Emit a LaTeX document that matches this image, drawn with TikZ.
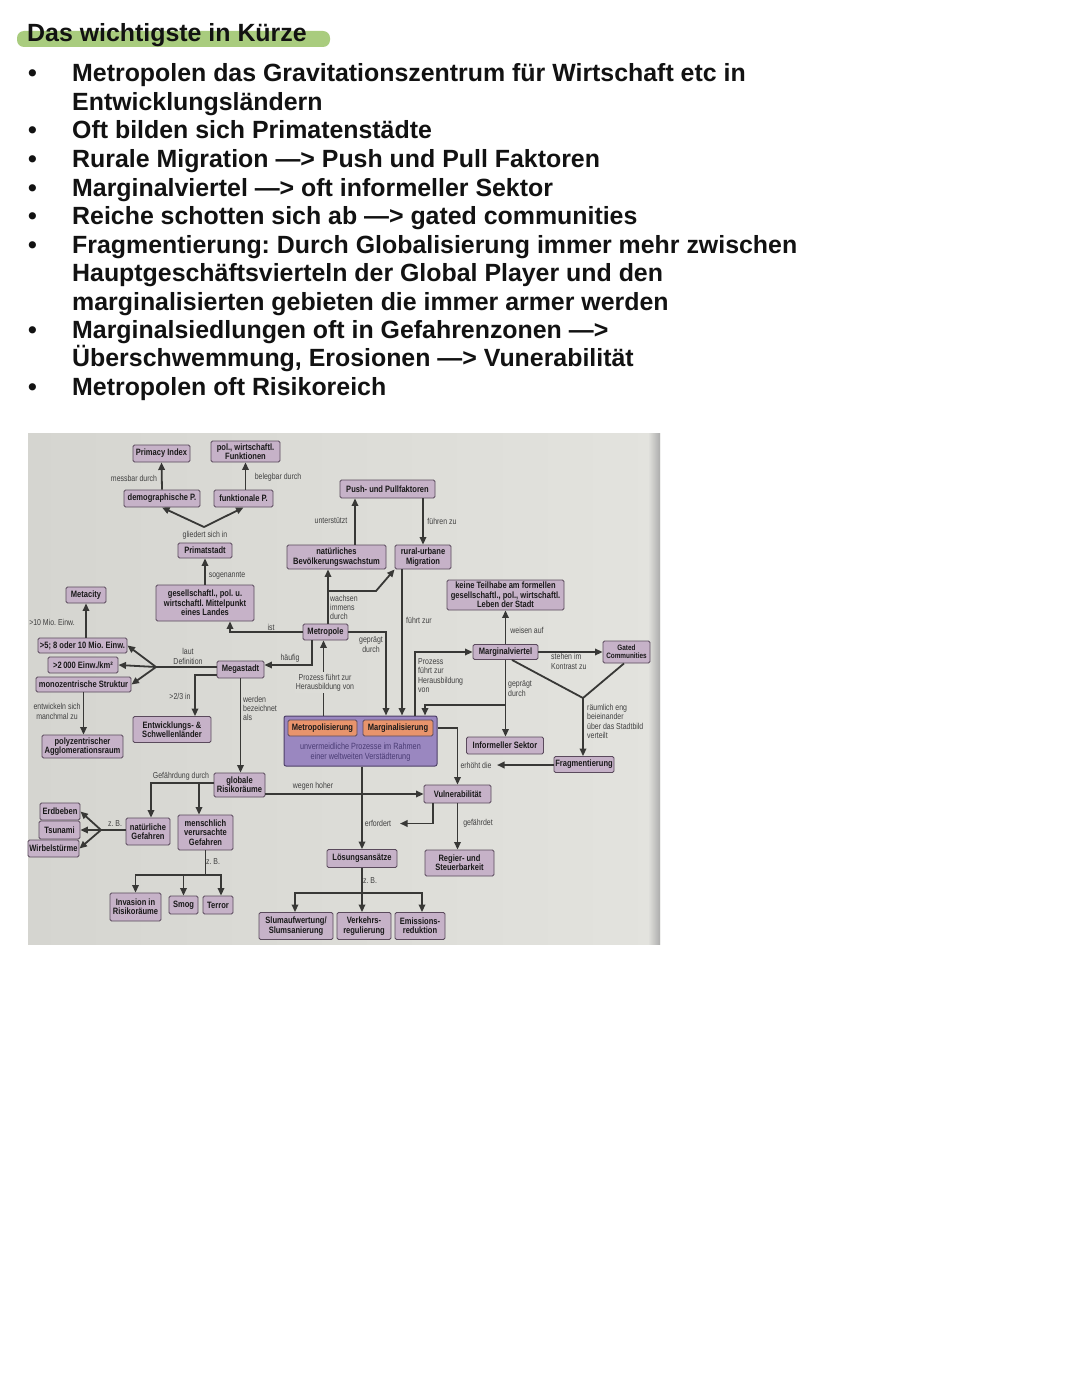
\documentclass[tikz,border=0pt]{standalone}
\usepackage{fontspec}
\setmainfont{Liberation Sans}
\newfontfamily\nodefont[FakeStretch=0.82]{Liberation Sans}
\newfontfamily\lblfont[FakeStretch=0.81]{Liberation Sans}
\usetikzlibrary{arrows.meta,calc}
\definecolor{boxfill}{HTML}{C6B2C8}
\definecolor{boxline}{HTML}{5A4A5C}
\definecolor{orangefill}{HTML}{E8946C}
\definecolor{bigfill}{HTML}{9A87C0}
\definecolor{bigline}{HTML}{4E4068}
\definecolor{arrowcol}{HTML}{383836}
\definecolor{lblcol}{HTML}{404040}
\definecolor{photoA}{HTML}{D5D5D0}
\definecolor{photoB}{HTML}{E3E3DE}
\definecolor{photoM}{HTML}{DCDCD7}
\definecolor{hlgreen}{HTML}{A9CC7E}
\definecolor{bigtext}{HTML}{4A3C74}
\tikzset{
 box/.style={draw=boxline, fill=boxfill, line width=0.9pt, rounded corners=1.5pt, align=center, inner sep=1pt, font=\nodefont\bfseries\fontsize{9.2}{9.3}\selectfont, text=black!90},
 obox/.style={box, fill=orangefill},
 lbl/.style={font=\lblfont\fontsize{8.6}{9.4}\selectfont, text=lblcol, inner sep=0pt, align=center},
 arr/.style={draw=arrowcol, line width=1.8pt, -{Triangle[length=7.5pt,width=6.5pt]}},
 ln/.style={draw=arrowcol, line width=1.8pt},
 bul/.style={anchor=base west, inner sep=0pt, font=\bfseries\fontsize{24.9}{28}\selectfont, text=black!93},
}
\frenchspacing
\begin{document}
\begin{tikzpicture}[x=1pt,y=-1pt]
\useasboundingbox (0,0) rectangle (1080,1394);
\fill[white] (0,0) rectangle (1080,1394);
% ---------- text part ----------
\fill[hlgreen, rounded corners=7pt] (17,31) rectangle (330,47);
\node[bul] (t0) at (27,42) {Das wichtigste in Kürze};
\foreach \k/\yy in {b1/82, b3/139, b4/167.5, b5/196, b6/224.5, b7/253, b10/338, b12/395}
  \node[bul] (\k) at (28,\yy) {•};
\node[bul] (t1) at (72,82) {Metropolen das Gravitationszentrum für Wirtschaft etc in};
\node[bul] (t2) at (72,110.5) {Entwicklungsländern};
\node[bul] (t3) at (72,139) {Oft bilden sich Primatenstädte};
\node[bul] (t4) at (72,167.5) {Rurale Migration —> Push und Pull Faktoren};
\node[bul] (t5) at (72,196) {Marginalviertel —> oft informeller Sektor};
\node[bul] (t6) at (72,224.5) {Reiche schotten sich ab —> gated communities};
\node[bul] (t7) at (72,253) {Fragmentierung: Durch Globalisierung immer mehr zwischen};
\node[bul] (t8) at (72,281.5) {Hauptgeschäftsvierteln der Global Player und den};
\node[bul] (t9) at (72,310) {marginalisierten gebieten die immer armer werden};
\node[bul] (t10) at (72,338) {Marginalsiedlungen oft in Gefahrenzonen —>};
\node[bul] (t11) at (72,366.5) {Überschwemmung, Erosionen —> Vunerabilität};
\node[bul] (t12) at (72,395) {Metropolen oft Risikoreich};
% ---------- photo background ----------
\fill[left color=photoA, right color=photoB] (28,433) rectangle (660,944);
\fill[right color=gray!65, left color=photoB] (648,433) rectangle (660,944);
% ---------- nodes ----------
\node[draw=bigline, fill=bigfill, line width=1pt, rounded corners=2pt, minimum width=153pt, minimum height=50pt] (bb) at (360.5,741) {};
\node[lbl, text=bigtext, font=\lblfont\fontsize{9}{9.6}\selectfont] (bbt) at (360.5,752) {unvermeidliche Prozesse im Rahmen\\einer weltweiten Verstädterung};
\node[obox, minimum width=69pt, minimum height=16pt] (mt) at (322.5,728) {Metropolisierung};
\node[obox, minimum width=70pt, minimum height=16pt] (mr) at (398,728) {Marginalisierung};

\node[box, minimum width=57pt, minimum height=17pt] (pi) at (161.5,453.5) {Primacy Index};
\node[box, minimum width=69pt, minimum height=21pt] (pw) at (245.5,451.5) {pol., wirtschaftl.\\Funktionen};
\node[box, minimum width=76pt, minimum height=17pt] (dp) at (162,498.5) {demographische P.};
\node[box, minimum width=59pt, minimum height=17pt] (fp) at (243.5,498.5) {funktionale P.};
\node[box, minimum width=54pt, minimum height=15pt] (ps) at (205,550.5) {Primatstadt};
\node[box, minimum width=98pt, minimum height=36pt] (gm) at (205,603) {gesellschaftl., pol. u.\\wirtschaftl. Mittelpunkt\\eines Landes};
\node[box, minimum width=40pt, minimum height=16pt] (mc) at (86,595) {Metacity};
\node[box, minimum width=89pt, minimum height=15pt] (m5) at (82.5,645.5) {>5; 8 oder 10 Mio. Einw.};
\node[box, minimum width=70pt, minimum height=16pt] (m2) at (83,665) {>2\,000 Einw./km²};
\node[box, minimum width=95pt, minimum height=15pt] (mz) at (83.5,684.5) {monozentrische Struktur};
\node[box, minimum width=81pt, minimum height=23pt] (pa) at (82.5,746.5) {polyzentrischer\\Agglomerationsraum};
\node[box, minimum width=47pt, minimum height=17pt] (ms) at (240.5,669.5) {Megastadt};
\node[box, minimum width=78pt, minimum height=26pt] (es) at (172,729.5) {Entwicklungs- \&\\Schwellenländer};
\node[box, minimum width=51pt, minimum height=24pt] (gr) at (239.5,785) {globale\\Risikoräume};
\node[box, minimum width=44pt, minimum height=27pt] (ng) at (148,831.5) {natürliche\\Gefahren};
\node[box, minimum width=55pt, minimum height=35pt] (mg) at (205.5,832.5) {menschlich\\verursachte\\Gefahren};
\node[box, minimum width=40pt, minimum height=17pt] (eb) at (60,811.5) {Erdbeben};
\node[box, minimum width=41pt, minimum height=18pt] (ts) at (59.5,830) {Tsunami};
\node[box, minimum width=51pt, minimum height=17pt] (ws) at (53.5,848.5) {Wirbelstürme};
\node[box, minimum width=51pt, minimum height=28pt] (ir) at (135.5,907) {Invasion in\\Risikoräume};
\node[box, minimum width=29pt, minimum height=18pt] (sm) at (183.5,905) {Smog};
\node[box, minimum width=30pt, minimum height=18pt] (te) at (218,905) {Terror};

\node[box, minimum width=95pt, minimum height=18pt] (pp) at (387.5,489) {Push- und Pullfaktoren};
\node[box, minimum width=99pt, minimum height=24pt] (nb) at (336.5,557) {natürliches\\Bevölkerungswachstum};
\node[box, minimum width=56pt, minimum height=24pt] (ru) at (423,557) {rural-urbane\\Migration};
\node[box, minimum width=45pt, minimum height=16pt] (mp) at (325.5,632) {Metropole};
\node[box, minimum width=117pt, minimum height=30pt] (kt) at (505.5,595) {keine Teilhabe am formellen\\gesellschaftl., pol., wirtschaftl.\\Leben der Stadt};
\node[box, minimum width=65pt, minimum height=15pt] (mv) at (505.5,652) {Marginalviertel};
\node[box, minimum width=47pt, minimum height=22pt, font=\nodefont\bfseries\fontsize{7.8}{8.2}\selectfont] (gc) at (626.5,652) {Gated\\Communities};
\node[box, minimum width=77pt, minimum height=17pt] (is) at (505,745.5) {Informeller Sektor};
\node[box, minimum width=60pt, minimum height=16pt] (fr) at (584,764.5) {Fragmentierung};
\node[box, minimum width=67pt, minimum height=18pt] (vu) at (457.5,794) {Vulnerabilität};
\node[box, minimum width=70pt, minimum height=18pt] (la) at (362,858.5) {Lösungsansätze};
\node[box, minimum width=69pt, minimum height=26pt] (rs) at (459.5,863) {Regier- und\\Steuerbarkeit};
\node[box, minimum width=74pt, minimum height=27pt] (sa) at (296,926) {Slumaufwertung/\\Slumsanierung};
\node[box, minimum width=54pt, minimum height=27pt] (vr) at (364,926) {Verkehrs-\\regulierung};
\node[box, minimum width=50pt, minimum height=27pt] (er) at (420,926) {Emissions-\\reduktion};

% ---------- labels ----------
\node[lbl] (l1) at (134,478) {messbar durch};
\node[lbl] (l2) at (278,477) {belegbar durch};
\node[lbl] (l3) at (205,535) {gliedert sich in};
\node[lbl] (l4) at (227,576) {sogenannte};
\node[lbl] (l5) at (52,622) {>10 Mio. Einw.};
\node[lbl] (l6) at (188,656.5) {laut\\Definition};
\node[lbl] (l7) at (57,711.5) {entwickeln sich\\manchmal zu};
\node[lbl] (l8) at (180,696) {>2/3 in};
\node[lbl, anchor=west, align=left] (l9) at (243,708.5) {werden\\bezeichnet\\als};
\node[lbl] (l10) at (271,627) {ist};
\node[lbl] (l11) at (290,658.5) {häufig};
\node[lbl, anchor=west, align=left] (l13) at (330,607.5) {wachsen\\immens\\durch};
\node[lbl] (l14) at (371,644.5) {geprägt\\durch};
\node[lbl] (l15) at (419,620.5) {führt zur};
\node[lbl, anchor=west, align=left] (l16) at (418,675.5) {Prozess\\führt zur\\Herausbildung\\von};
\node[lbl] (l17) at (527,630.5) {weisen auf};
\node[lbl, anchor=west, align=left] (l18) at (551,661.5) {stehen im\\Kontrast zu};
\node[lbl, anchor=west, align=left] (l19) at (508,688.5) {geprägt\\durch};
\node[lbl, anchor=west, align=left] (l20) at (587,721.5) {räumlich eng\\beieinander\\über das Stadtbild\\verteilt};
\node[lbl] (l21) at (476,765) {erhöht die};
\node[lbl] (l22) at (181,776) {Gefährdung durch};
\node[lbl] (l23) at (115,824) {z. B.};
\node[lbl] (l24) at (213,862) {z. B.};
\node[lbl] (l25) at (313,786.5) {wegen hoher};
\node[lbl] (l26) at (378,823) {erfordert};
\node[lbl] (l27) at (478,823) {gefährdet};
\node[lbl] (l28) at (370,880.5) {z. B.};
\node[lbl] (l29) at (331,521) {unterstützt};
\node[lbl] (l30) at (442,521) {führen zu};

% ---------- connectors ----------
\draw[arr] (dp.north) -- (pi.south);
\draw[arr] (pw.south |- fp.north) -- (pw.south);
\coordinate (v1) at (204,527);
\draw[arr] (v1) -- (dp.south);
\draw[arr] (v1) -- (fp.south);
\draw[arr] (gm.north) -- (ps.south);
\draw[arr] (mc.south |- m5.north) -- (mc.south);
\coordinate (v2) at (156,667);
\draw[ln] (v2 -| ms.west) -- (v2);
\draw[arr] (v2) -- (m5.east);
\draw[arr] (v2) -- (m2.east);
\draw[arr] (v2) -- (mz.east);
\draw[arr] (mz.south) -- (mz.south |- pa.north);
\draw[arr] ([yshift=-5.5pt]ms.west) -| ([xshift=23pt]es.north);
\draw[arr] (ms.south) -- (ms.south |- gr.north);
\coordinate (j1) at (199,783);
\draw[arr] ([yshift=2pt]gr.west) -| ([xshift=3pt]ng.north);
\draw[arr] (j1) -- (j1 |- mg.north);
\coordinate (v3) at (101,830);
\draw[ln] (v3 -| ng.west) -- (v3);
\draw[arr] (v3) -- (eb.east);
\draw[arr] (v3) -- (ts.east);
\draw[arr] (v3) -- (ws.east);
\coordinate (j2) at (205.5,875);
\draw[ln] (mg.south) -- (j2);
\draw[arr] (j2) -| (ir.north);
\draw[arr] (j2) -| ([xshift=3pt]te.north);
\draw[arr] (sm.north |- j2) -- (sm.north);

\draw[arr] ([xshift=18.5pt]nb.north) -- ([xshift=18.5pt]nb.north |- pp.south);
\draw[arr] (pp.south -| ru.north) -- (ru.north);
\draw[arr] ([xshift=2.5pt]mp.north) -- ([xshift=2.5pt]mp.north |- nb.south);
\coordinate (j3) at (328,591);
\draw[arr] (j3) -- (376,591) -- (ru.south west);
\draw[arr] (mp.west) -| ([xshift=25pt]gm.south);
\draw[arr] ([xshift=-13.5pt]mp.south) |- ([yshift=4.5pt]ms.east);
\draw[arr] (mp.east) -| ($(bb.north)+(25.5,0)$);
\draw[arr] ([xshift=-21pt]ru.south) -- ([xshift=-21pt]ru.south |- bb.north);
\draw[arr] ([xshift=-2pt]mp.south |- bb.north) -- ([xshift=-2pt]mp.south);
\draw[arr] ($(bb.north)+(54.5,0)$) |- (mv.west);
\draw[arr] (mv.south) -- (mv.south |- is.north);
\coordinate (j4) at (505.5,705);
\draw[arr] (j4) -| ($(bb.north)+(64.5,0)$);
\draw[arr] (mv.north) -- (mv.north |- kt.south);
\draw[arr] (mv.east) -- (mv.east -| gc.west);
\coordinate (v4) at (583,698);
\draw[ln] ([xshift=6.5pt]mv.south) -- (v4) -- ([xshift=-2.5pt]gc.south);
\draw[arr] (v4) -- (v4 |- fr.north);
\coordinate (e1) at (497,765);
\draw[arr] (fr.west |- e1) -- (e1);
\draw[arr] (bb.east |- mr.east) -| (vu.north);
\draw[arr] (gr.east |- vu.west) -- (vu.west);
\draw[arr] (la.north |- bb.south) -- (la.north);
\coordinate (e2) at (400,823.5);
\draw[arr] ([xshift=-24.5pt]vu.south) |- (e2);
\draw[arr] (vu.south) -- (vu.south |- rs.north);
\coordinate (j5) at (362,893);
\draw[ln] (la.south) -- (j5);
\draw[arr] (j5) -| ([xshift=-1pt]sa.north);
\draw[arr] (j5) -| ([xshift=2pt]er.north);
\draw[arr] (j5) -- (j5 |- vr.north);
% label that interrupts the Metropolisierung -> Metropole arrow
\node[lbl, fill=photoM, inner ysep=2pt, inner xsep=0.5pt] (l12) at (325,682.5) {Prozess führt zur\\Herausbildung von};
\end{tikzpicture}
\end{document}
